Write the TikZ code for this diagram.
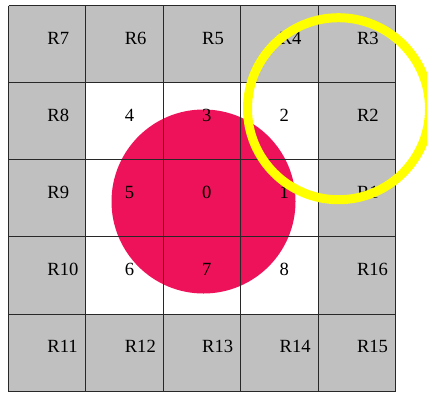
\documentclass[tikz,border=0pt]{standalone}
\usepackage{fontspec}
\setmainfont{Liberation Serif}
\definecolor{cellgray}{RGB}{192,192,192}
\definecolor{dotpink}{RGB}{238,18,90}
\definecolor{ringyellow}{RGB}{255,255,0}
\definecolor{gridline}{RGB}{40,40,40}
\tikzset{
  lbl/.style={anchor=base west, inner sep=0pt, font=\fontsize{18.6}{20}\selectfont},
  gridstroke/.style={draw=gridline, line width=1.5pt},
  ring/.style={draw=ringyellow, line width=9pt},
}
\begin{document}
\begin{tikzpicture}[x=1pt,y=-1pt]
\useasboundingbox (0,0) rectangle (427,392);
\clip (0,0) rectangle (427,392);
\fill[cellgray] (8.5,5.5) rectangle (395.5,391.5);
\fill[white] (85.5,82.5) rectangle (318.5,314.5);
\fill[dotpink] (203.5,201.5) circle[radius=92];
\foreach \xx in {8.5,85.5,163.5,240.5,318.5,395.5} {
  \draw[gridstroke] (\xx,5.5) -- (\xx,391.5);
}
\foreach \yy in {5.5,82.5,159.5,236.5,314.5,391.5} {
  \draw[gridstroke] (8.5,\yy) -- (395.5,\yy);
}
\foreach \t [count=\n from 0] in {R7,R6,R5,R4,R3,R8,4,3,2,R2,R9,5,0,1,R1,R10,6,7,8,R16,R11,R12,R13,R14,R15} {
  \pgfmathtruncatemacro\cc{mod(\n,5)}
  \pgfmathtruncatemacro\rr{div(\n,5)}
  \node[lbl] (c\n) at ({8.5+77.4*(\cc+0.5)},{5.5+77.2*(\rr+0.5)}) {\t};
}
\draw[ring] (338.5,108.7) circle[radius=91];
\end{tikzpicture}
\end{document}
